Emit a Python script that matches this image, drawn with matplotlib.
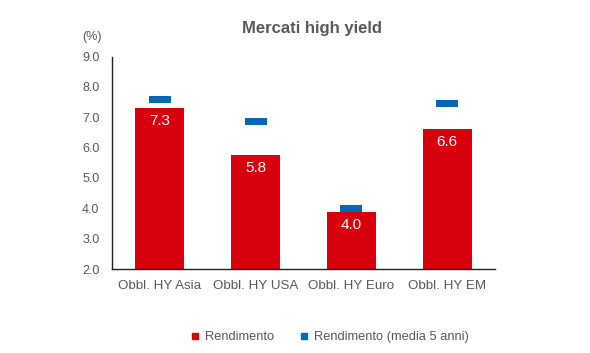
import matplotlib.pyplot as plt
from matplotlib.lines import Line2D

plt.rcParams['font.family'] = ['Liberation Sans', 'DejaVu Sans']

# data
categorie = ['Obbl. HY Asia', 'Obbl. HY USA', 'Obbl. HY Euro', 'Obbl. HY EM']
rendimento = [7.3, 5.75, 3.88, 6.62]
etichette = ['7.3', '5.8', '4.0', '6.6']
media_5_anni = [7.58, 6.87, 4.0, 7.46]
yticks = [2.0, 3.0, 4.0, 5.0, 6.0, 7.0, 8.0, 9.0]

rosso = '#d9000d'
blu = '#0068b5'
grigio = '#595959'

fig = plt.figure(figsize=(5.9, 3.53), dpi=100)
ax = fig.add_axes([112 / 590, 1 - 269 / 353, 383 / 590, (269 - 56.6) / 353])

x = range(len(categorie))
ax.bar(x, [v - 2.0 for v in rendimento], bottom=2.0, width=0.51, color=rosso)
ax.bar(x, 0.23, bottom=[m - 0.115 for m in media_5_anni], width=0.23, color=blu)

for i, v in enumerate(rendimento):
    ax.text(i, v - 0.42, etichette[i], ha='center', va='center', color='white', fontsize=11)

ax.set_xlim(-0.5, len(categorie) - 0.5)
ax.set_ylim(2.0, 9.0)
ax.set_yticks(yticks)
ax.set_yticklabels(['%.1f' % t for t in yticks])
ax.set_xticks(list(x))
ax.set_xticklabels(categorie)
ax.tick_params(axis='both', length=0, colors=grigio, labelsize=9)
ax.tick_params(axis='y', pad=9)
ax.tick_params(axis='x', pad=8, labelsize=9.6)
for s in ['top', 'right']:
    ax.spines[s].set_visible(False)
for s in ['left', 'bottom']:
    ax.spines[s].set_color('#222222')
    ax.spines[s].set_linewidth(1.0)

fig.text(312 / 590, 1 - 28 / 353, 'Mercati high yield', ha='center', va='center',
         fontsize=12, fontweight='bold', color=grigio)
fig.text(92 / 590, 1 - 37 / 353, '(%)', ha='center', va='center', fontsize=9, color=grigio)

handles = [Line2D([], [], marker='s', linestyle='none', color=rosso, markersize=5),
           Line2D([], [], marker='s', linestyle='none', color=blu, markersize=5)]
leg = fig.legend(handles, ['Rendimento', 'Rendimento (media 5 anni)'], loc='center',
                 bbox_to_anchor=(330 / 590, 1 - 337 / 353), ncol=2, frameon=False,
                 fontsize=9.3, handlelength=0.6, handletextpad=0.5, columnspacing=2.0)
for t in leg.get_texts():
    t.set_color(grigio)

fig.savefig('out.png', dpi=100)
